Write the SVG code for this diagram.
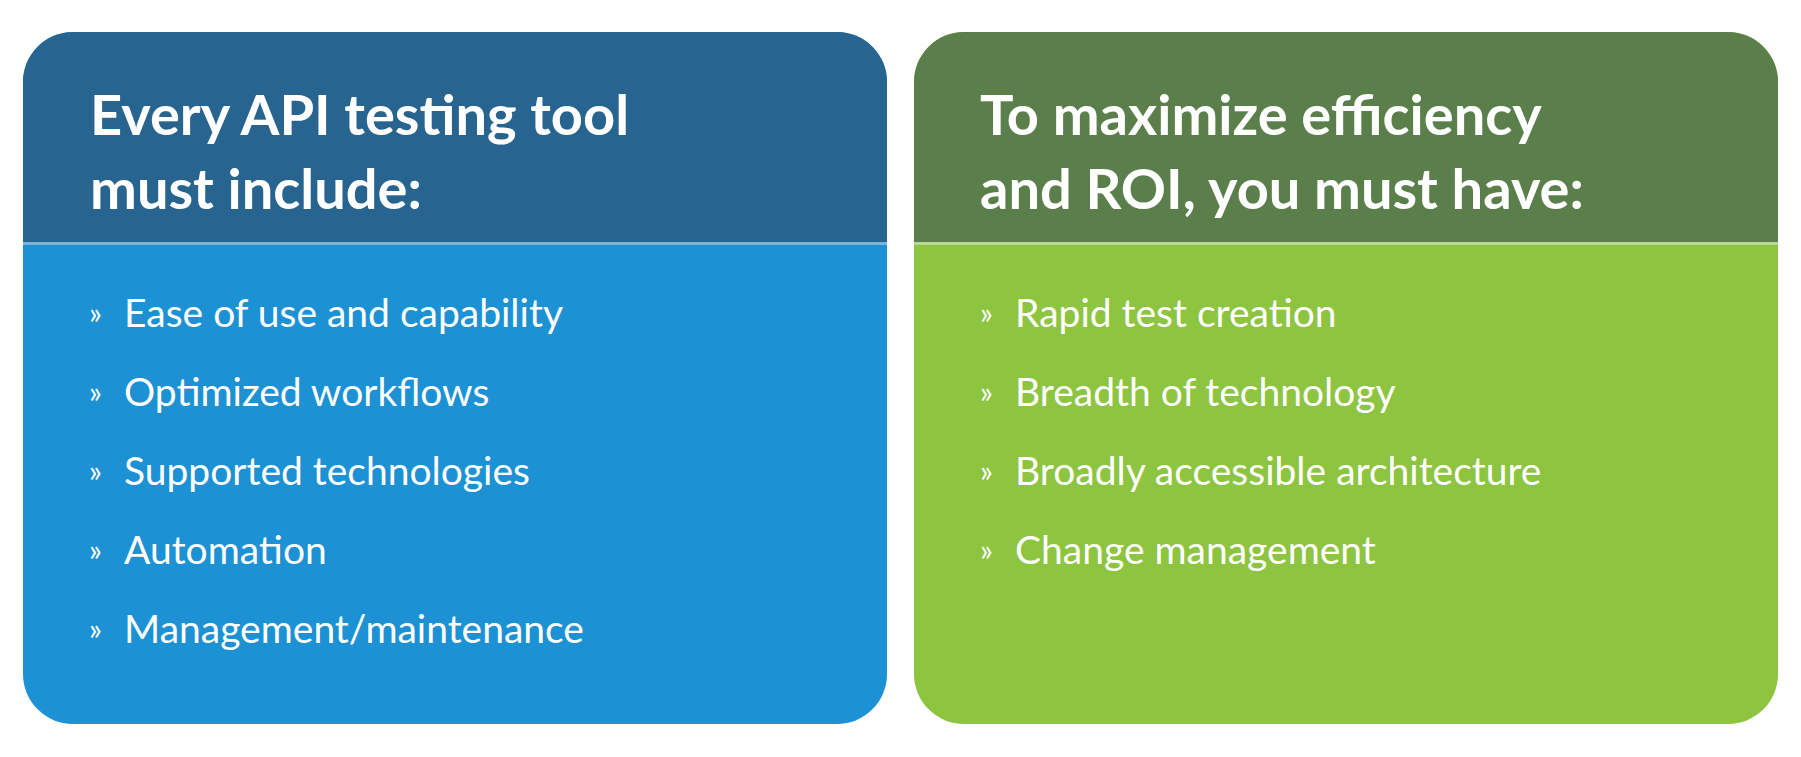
<svg xmlns="http://www.w3.org/2000/svg" width="1801" height="757" viewBox="0 0 1801 757">
<style>
.h{font-family:Lato,"Liberation Sans",sans-serif;font-weight:bold;font-size:56px;fill:#fff}
.i{font-family:Lato,"Liberation Sans",sans-serif;font-size:39px;fill:#fff}
.b{font-family:Lato,"Liberation Sans",sans-serif;font-size:30px;fill:#fff}
</style>
<defs>
<clipPath id="cl"><rect x="23" y="32" width="864" height="692" rx="50"/></clipPath>
<clipPath id="cr"><rect x="914" y="32" width="864" height="692" rx="50"/></clipPath>
</defs>
<rect width="1801" height="757" fill="#fff"/>
<g id="left">
<g clip-path="url(#cl)">
<rect x="23" y="32" width="864" height="692" fill="#1c91d3"/>
<rect x="23" y="32" width="864" height="211" fill="#276590"/>
<rect x="23" y="242" width="864" height="3" fill="#7fb3d6"/>
</g>
<text class="h" x="90" y="135">Every API testing tool</text>
<text class="h" x="90" y="209">must include:</text>
<g class="i">
<text class="b" x="89" y="324">»</text><text class="i" x="124" y="327">Ease of use and capability</text>
<text class="b" x="89" y="403">»</text><text class="i" x="124" y="406">Optimized workflows</text>
<text class="b" x="89" y="482">»</text><text class="i" x="124" y="485">Supported technologies</text>
<text class="b" x="89" y="561">»</text><text class="i" x="124" y="564">Automation</text>
<text class="b" x="89" y="640">»</text><text class="i" x="124" y="643">Management/maintenance</text>
</g>
</g>
<g id="right">
<g clip-path="url(#cr)">
<rect x="914" y="32" width="864" height="692" fill="#8dc440"/>
<rect x="914" y="32" width="864" height="211" fill="#5b7f4b"/>
<rect x="914" y="242" width="864" height="3" fill="#b6d894"/>
</g>
<text class="h" x="980" y="135">To maximize efficiency</text>
<text class="h" x="980" y="209">and ROI, you must have:</text>
<text class="b" x="980" y="324">»</text><text class="i" x="1015" y="327">Rapid test creation</text>
<text class="b" x="980" y="403">»</text><text class="i" x="1015" y="406">Breadth of technology</text>
<text class="b" x="980" y="482">»</text><text class="i" x="1015" y="485">Broadly accessible architecture</text>
<text class="b" x="980" y="561">»</text><text class="i" x="1015" y="564">Change management</text>
</g>
<g id="connectors"/>
</svg>
